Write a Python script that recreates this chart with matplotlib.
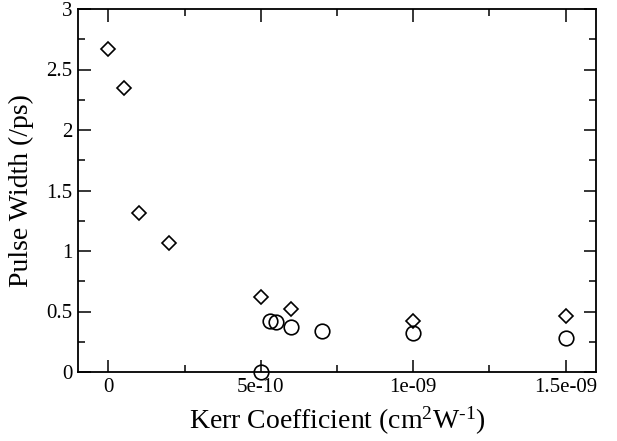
import matplotlib
matplotlib.use("Agg")
import matplotlib.pyplot as plt
from matplotlib.ticker import MultipleLocator

plt.rcParams['font.family'] = ['Liberation Serif', 'DejaVu Serif']
plt.rcParams['mathtext.fontset'] = 'custom'
plt.rcParams['mathtext.rm'] = 'Liberation Serif'
plt.rcParams['mathtext.it'] = 'Liberation Serif:italic'
plt.rcParams['mathtext.bf'] = 'Liberation Serif:bold'

# diamonds
kerr_d = [0.0, 0.5e-10, 1.0e-10, 2.0e-10, 5.0e-10, 6.0e-10, 1.0e-9, 1.5e-9]
width_d = [2.67, 2.35, 1.31, 1.07, 0.62, 0.52, 0.42, 0.46]

# circles
kerr_c = [5.0e-10, 5.3e-10, 5.5e-10, 6.0e-10, 7.0e-10, 1.0e-9, 1.5e-9]
width_c = [0.0, 0.42, 0.41, 0.375, 0.335, 0.32, 0.285]

xticks = [0, 5e-10, 1e-9, 1.5e-9]
xticklabels = ["0", "5e-10", "1e-09", "1.5e-09"]
yticks = [0, 0.5, 1, 1.5, 2, 2.5, 3]
yticklabels = ["0", "0.5", "1", "1.5", "2", "2.5", "3"]

fig = plt.figure(figsize=(6.17, 4.41), dpi=100)
ax = fig.add_axes([78/617, 1 - 372/441, (596-78)/617, (372-9)/441])

ax.plot(kerr_d, width_d, linestyle='none', marker='D', markersize=7.6,
        markerfacecolor='none', markeredgecolor='black', markeredgewidth=1.2)
ax.plot(kerr_c, width_c, linestyle='none', marker='o', markersize=10.5,
        markerfacecolor='none', markeredgecolor='black', markeredgewidth=1.2,
        clip_on=False)

ax.set_xlim(-1e-10, 1.6e-9)
ax.set_ylim(0, 3)
ax.set_xticks(xticks)
ax.set_xticklabels(xticklabels)
ax.set_yticks(yticks)
ax.set_yticklabels(yticklabels)
ax.xaxis.set_minor_locator(MultipleLocator(2.5e-10))
ax.yaxis.set_minor_locator(MultipleLocator(0.25))

ax.tick_params(which='both', direction='in', top=True, right=True, width=1.1)
ax.tick_params(which='major', length=9, labelsize=15, pad=4)
ax.tick_params(which='minor', length=5)
for s in ax.spines.values():
    s.set_linewidth(1.3)

ax.set_xlabel(r"Kerr Coefficient (cm$^{2}$W$^{\text{-}1}$)", fontsize=20, labelpad=6)
ax.set_ylabel("Pulse Width (/ps)", fontsize=20, labelpad=9)

fig.savefig("out.png", dpi=100)
